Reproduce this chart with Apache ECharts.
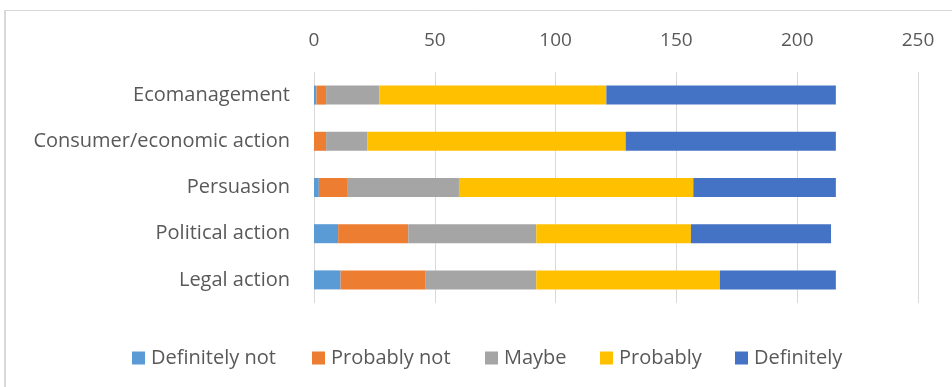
<!DOCTYPE html>
<html>
<head>
<meta charset="utf-8">
<script src="https://cdn.jsdelivr.net/npm/echarts@6/dist/echarts.min.js"></script>
<style>
  html, body { margin: 0; padding: 0; background: #ffffff; }
  #chart { width: 952px; height: 387px; }
</style>
</head>
<body>
<div id="chart"></div>
<script>
// Categories, bottom to top on the vertical axis
const categories = ['Legal action', 'Political action', 'Persuasion', 'Consumer/economic action', 'Ecomanagement'];

// Response counts per category (same order as categories)
const definitelyNot = [11, 10, 2, 0, 1];
const probablyNot   = [35, 29, 12, 5, 4];
const maybe         = [46, 53, 46, 17, 22];
const probably      = [76, 64, 97, 107, 94];
const definitely    = [48, 58, 59, 87, 95];

const seriesNames  = ['Definitely not', 'Probably not', 'Maybe', 'Probably', 'Definitely'];
const seriesValues = [definitelyNot, probablyNot, maybe, probably, definitely];
const seriesColors = ['#5b9bd5', '#ed7d31', '#a5a5a5', '#ffc000', '#4472c4'];

// Value axis ticks
const axisMin = 0, axisMax = 250, axisStep = 50;

// Legend item left positions (box includes 5px legend padding)
const legendLeft = [127, 307, 480, 595, 730];

const FONT = '"Open Sans", "Liberation Sans", sans-serif';
const TEXT = '#595959';

const chart = echarts.init(document.getElementById('chart'), null, { renderer: 'canvas' });

const option = {
  backgroundColor: '#ffffff',
  animation: false,
  textStyle: { fontFamily: FONT, color: TEXT },
  grid: { left: 314, right: 34, top: 72, bottom: 84, containLabel: false },
  xAxis: {
    type: 'value',
    position: 'top',
    min: axisMin, max: axisMax, interval: axisStep,
    axisLine: { show: false },
    axisTick: { show: false },
    axisLabel: { color: TEXT, fontSize: 19, fontFamily: FONT, margin: 22 },
    splitLine: { show: true, lineStyle: { color: '#d9d9d9', width: 1 } }
  },
  yAxis: {
    type: 'category',
    data: categories,
    axisLine: { show: false },
    axisTick: { show: false },
    axisLabel: { color: TEXT, fontSize: 20, fontFamily: FONT, margin: 24 }
  },
  legend: seriesNames.map((name, i) => ({
    data: [name],
    left: legendLeft[i],
    top: 343,
    itemWidth: 13,
    itemHeight: 13,
    itemGap: 7,
    icon: 'rect',
    textStyle: { color: TEXT, fontSize: 20, fontFamily: FONT, padding: [0, 0, 0, 1] }
  })),
  series: seriesNames.map((name, i) => ({
    name: name,
    type: 'bar',
    stack: 'total',
    barWidth: 19,
    itemStyle: { color: seriesColors[i] },
    data: seriesValues[i]
  })),
  graphic: [
    { type: 'line', shape: { x1: 5, y1: 10.5, x2: 952, y2: 10.5 }, style: { stroke: '#d9d9d9', lineWidth: 1 }, silent: true },
    { type: 'line', shape: { x1: 5, y1: 10, x2: 5, y2: 387 }, style: { stroke: '#d9d9d9', lineWidth: 2 }, silent: true }
  ]
};

chart.setOption(option);
</script>
</body>
</html>
